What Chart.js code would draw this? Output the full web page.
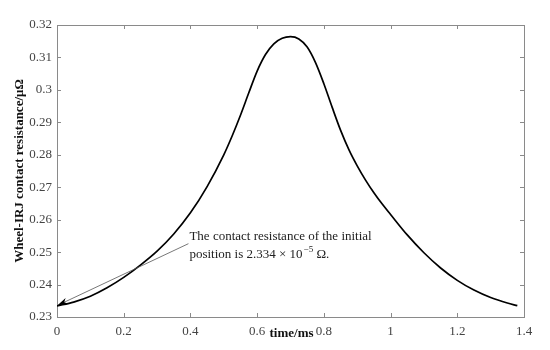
<!DOCTYPE html>
<html>
<head>
<meta charset="utf-8">
<script src="https://cdn.jsdelivr.net/npm/chart.js@4"></script>
<style>
  body { margin: 0; background: #fff; }
</style>
</head>
<body>
<canvas id="chart" width="550" height="350"></canvas>
<script>
// curve
const timeMs = [0, 0.05, 0.10, 0.15, 0.20, 0.25, 0.30, 0.35, 0.40, 0.45, 0.50, 0.525, 0.55, 0.575, 0.60,
  0.625, 0.65, 0.675, 0.70, 0.725, 0.75, 0.775, 0.80, 0.825, 0.85, 0.875, 0.90, 0.925, 0.95, 0.975,
  1.00, 1.05, 1.10, 1.15, 1.20, 1.25, 1.30, 1.35, 1.38];
const resistance = [0.2334, 0.2346, 0.2364, 0.2390, 0.2422, 0.2460, 0.2503, 0.2556, 0.2621, 0.2702,
  0.2800, 0.2858, 0.2922, 0.2991, 0.3058, 0.3109, 0.3142, 0.3159, 0.3164, 0.3157, 0.3132, 0.3084,
  0.3019, 0.2946, 0.2876, 0.2816, 0.2766, 0.2722, 0.2683, 0.2648, 0.2616, 0.2553, 0.2498, 0.2451,
  0.2413, 0.2383, 0.2360, 0.2343, 0.2335];

const xTicks = [0, 0.2, 0.4, 0.6, 0.8, 1, 1.2, 1.4];
const yTicks = [0.23, 0.24, 0.25, 0.26, 0.27, 0.28, 0.29, 0.3, 0.31, 0.32];

const noteLines = ['The contact resistance of the initial', 'position is 2.334 \u00d7 10'];
const noteSup = '\u22125';
const noteTail = ' \u03a9.';
const arrowTip = {x: 0, y: 0.2335};
const arrowTail = {x: 0.394, y: 0.2526};
const noteAt = {x: 0.397, y: 0.2536};

const serif = '"Liberation Serif", "DejaVu Serif", serif';
const axisGray = '#8a8a8a';

let points = timeMs.map((t, i) => ({x: t, y: resistance[i]}));

function fixTicks(list) {
  return function (scale) {
    scale.ticks = list.map(v => ({value: v}));
  };
}

// MATLAB style: ticks point into the box on all four sides
const tickplugin = {
  id: 'inticks',
  afterDraw(chart) {
    let ctx = chart.ctx, a = chart.chartArea;
    let xs = chart.scales.x, ys = chart.scales.y;
    ctx.save();
    ctx.strokeStyle = axisGray;
    ctx.lineWidth = 1;
    ctx.beginPath();
    xTicks.forEach(v => {
      let px = Math.round(xs.getPixelForValue(v)) + 0.5;
      ctx.moveTo(px, a.bottom); ctx.lineTo(px, a.bottom - 4);
      ctx.moveTo(px, a.top); ctx.lineTo(px, a.top + 4);
    });
    yTicks.forEach(v => {
      let py = Math.round(ys.getPixelForValue(v)) + 0.5;
      ctx.moveTo(a.left, py); ctx.lineTo(a.left + 4, py);
      ctx.moveTo(a.right, py); ctx.lineTo(a.right - 4, py);
    });
    ctx.stroke();
    ctx.restore();
  }
};

const noteplugin = {
  id: 'note',
  afterDatasetsDraw(chart) {
    let ctx = chart.ctx;
    let xs = chart.scales.x, ys = chart.scales.y;
    let tx = xs.getPixelForValue(arrowTip.x), ty = ys.getPixelForValue(arrowTip.y);
    let sx = xs.getPixelForValue(arrowTail.x), sy = ys.getPixelForValue(arrowTail.y);
    let ang = Math.atan2(ty - sy, tx - sx);

    ctx.save();
    ctx.strokeStyle = '#555';
    ctx.lineWidth = 0.8;
    ctx.beginPath();
    ctx.moveTo(sx, sy);
    ctx.lineTo(tx + 8 * Math.cos(ang + Math.PI), ty + 8 * Math.sin(ang + Math.PI));
    ctx.stroke();

    // arrow head
    let len = 11, half = 3.2;
    let bx = tx - len * Math.cos(ang), by = ty - len * Math.sin(ang);
    ctx.fillStyle = '#000';
    ctx.beginPath();
    ctx.moveTo(tx, ty);
    ctx.lineTo(bx + half * Math.sin(ang), by - half * Math.cos(ang));
    ctx.lineTo(bx + 3 * Math.cos(ang), by + 3 * Math.sin(ang));
    ctx.lineTo(bx - half * Math.sin(ang), by + half * Math.cos(ang));
    ctx.closePath();
    ctx.fill();

    // text
    let nx = xs.getPixelForValue(noteAt.x), ny = ys.getPixelForValue(noteAt.y);
    ctx.fillStyle = '#222';
    ctx.textBaseline = 'alphabetic';
    ctx.textAlign = 'left';
    ctx.font = '13px ' + serif;
    ctx.fillText(noteLines[0], nx, ny);
    let y2 = ny + 17.5;
    ctx.fillText(noteLines[1], nx, y2);
    let w = ctx.measureText(noteLines[1]).width;
    ctx.font = '9px ' + serif;
    ctx.fillText(noteSup, nx + w + 1, y2 - 6);
    let w2 = ctx.measureText(noteSup).width;
    ctx.font = '13px ' + serif;
    ctx.fillText(noteTail, nx + w + w2 + 1, y2);

    // x axis title sits in the tick label row
    ctx.font = 'bold 13px ' + serif;
    ctx.textAlign = 'center';
    ctx.fillStyle = '#111';
    ctx.fillText('time/ms', (chart.chartArea.left + chart.chartArea.right) / 2 + 1, chart.chartArea.bottom + 20);
    ctx.restore();
  }
};

let ctx = document.getElementById('chart').getContext('2d');

let chart = new Chart(ctx, {
  type: 'line',
  data: {
    datasets: [{
      data: points,
      borderColor: '#000',
      borderWidth: 1.7,
      pointRadius: 0,
      cubicInterpolationMode: 'monotone',
      fill: false
    }]
  },
  options: {
    responsive: false,
    animation: false,
    layout: {padding: {left: 0, right: 26, top: 25, bottom: 0}},
    plugins: {legend: {display: false}, tooltip: {enabled: false}},
    scales: {
      x: {
        type: 'linear', position: 'bottom', min: 0, max: 1.4,
        afterBuildTicks: fixTicks(xTicks),
        afterFit: s => { s.height = 33; },
        grid: {drawOnChartArea: false, drawTicks: false},
        border: {color: axisGray, width: 1},
        ticks: {color: '#444', padding: 7, font: {family: serif, size: 13},
          callback: v => String(+v.toFixed(1))}
      },
      x2: {
        type: 'linear', position: 'top', min: 0, max: 1.4,
        afterFit: s => { s.height = 0; },
        grid: {drawOnChartArea: false, drawTicks: false},
        border: {color: axisGray, width: 1},
        ticks: {display: false}
      },
      y: {
        type: 'linear', position: 'left', min: 0.23, max: 0.32,
        afterBuildTicks: fixTicks(yTicks),
        afterFit: s => { s.width = 57; },
        grid: {drawOnChartArea: false, drawTicks: false},
        border: {color: axisGray, width: 1},
        ticks: {color: '#444', padding: 5, font: {family: serif, size: 13},
          callback: v => String(+v.toFixed(2))},
        title: {display: true, text: 'Wheel-IRJ contact resistance/\u03bc\u03a9', color: '#111',
          font: {family: serif, size: 13, weight: 'bold'}, padding: {top: 12, bottom: 0}}
      },
      y2: {
        type: 'linear', position: 'right', min: 0.23, max: 0.32,
        afterFit: s => { s.width = 0; },
        grid: {drawOnChartArea: false, drawTicks: false},
        border: {color: axisGray, width: 1},
        ticks: {display: false}
      }
    }
  },
  plugins: [tickplugin, noteplugin]
});
</script>
</body>
</html>
